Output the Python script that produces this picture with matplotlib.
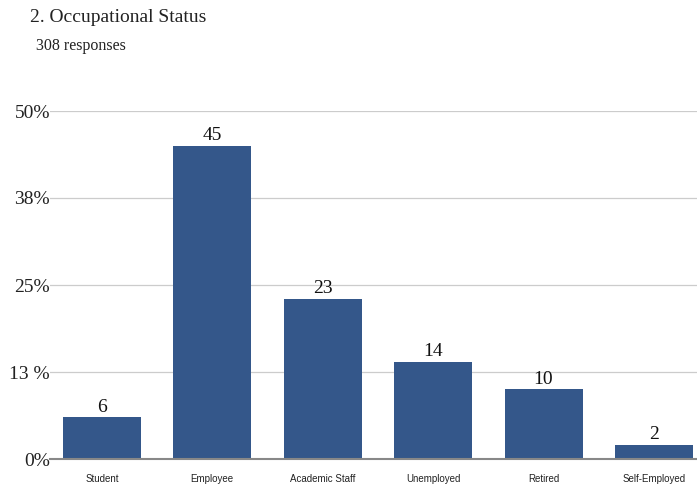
import matplotlib
matplotlib.use("Agg")
import matplotlib.pyplot as plt
import numpy as np

categories = ["Student", "Employee", "Academic Staff", "Unemployed", "Retired", "Self-Employed"]
shares = [6, 45, 23, 14, 10, 2]          # % of 308 responses
yticks = [0, 12.5, 25, 37.5, 50]
ytick_labels = ["0%", "13 %", "25%", "38%", "50%"]

BAR = "#34578a"
SERIF = "Liberation Serif"

fig = plt.figure(figsize=(6.97, 4.86), dpi=100)
ax = fig.add_axes([50 / 697, 27 / 486, 647 / 697, 348 / 486])

x = np.arange(len(categories))
ax.bar(x, shares, width=0.707, color=BAR, zorder=3)
for xi, v in zip(x, shares):
    ax.text(xi, v + 0.25, f"{v}", ha="center", va="bottom", fontsize=14,
            family=SERIF, color="#111111")

ax.set_xlim(-0.47, 5.39)
ax.set_ylim(0, 50)
ax.set_yticks(yticks)
ax.set_yticklabels(ytick_labels, family=SERIF, fontsize=14, color="#222222")
ax.set_xticks(x)
ax.set_xticklabels(categories, family="Liberation Sans", fontsize=7, color="#222222")
ax.tick_params(axis="both", length=0)
ax.tick_params(axis="x", pad=11)
ax.tick_params(axis="y", pad=0)
ax.grid(axis="y", color="#cccccc", lw=0.9, zorder=0)
for s in ["top", "right", "left"]:
    ax.spines[s].set_visible(False)
ax.spines["bottom"].set_color("#888888")
ax.spines["bottom"].set_linewidth(1.5)
ax.spines["bottom"].set_zorder(4)

fig.text(30 / 697, 1 - 18 / 486, "2. Occupational Status", family=SERIF, fontsize=14,
         va="center", ha="left", color="#222222")
fig.text(36 / 697, 1 - 46 / 486, "308 responses", family=SERIF, fontsize=11.5,
         va="center", ha="left", color="#222222")

fig.savefig("out.png", dpi=100)
